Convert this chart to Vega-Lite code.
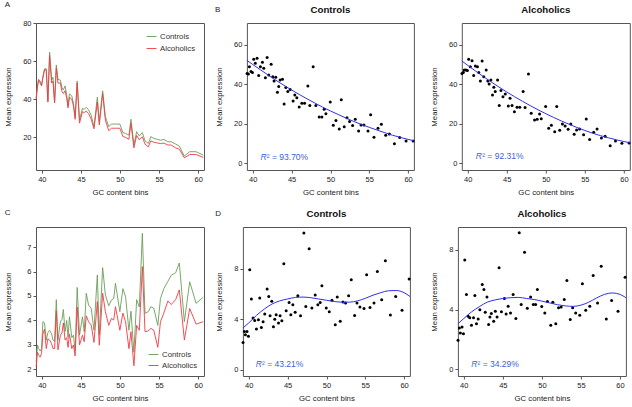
{
  "$schema": "https://vega.github.io/schema/vega-lite/v6.json",
  "padding": {"left": 4, "top": 0, "right": 2, "bottom": 2},
  "background": "white",
  "config": {
    "font": "Liberation Sans",
    "view": {"stroke": "#555", "strokeWidth": 1},
    "axis": {"grid": false, "domain": false, "tickColor": "#555", "tickSize": 3, "labelFontSize": 7.5, "labelColor": "#222", "titleFontSize": 7.8, "titleFontWeight": "normal", "titleColor": "#222", "labelFlush": false, "labelOverlap": false},
    "axisX": {"labelPadding": 2.5, "titlePadding": 5},
    "axisY": {"labelPadding": 2, "titlePadding": 10},
    "title": {"fontSize": 9.7, "fontWeight": "bold", "color": "#111", "offset": 8, "anchor": "middle"}
  },
  "datasets": {
    "lineA": [
      {"x": 39.27, "Controls": 41, "Alcoholics": 40},
      {"x": 39.44, "Controls": 47, "Alcoholics": 46.5},
      {"x": 39.57, "Controls": 50.5, "Alcoholics": 50},
      {"x": 39.78, "Controls": 49.5, "Alcoholics": 48.5},
      {"x": 39.96, "Controls": 47.5, "Alcoholics": 47},
      {"x": 40.13, "Controls": 52, "Alcoholics": 51},
      {"x": 40.34, "Controls": 56, "Alcoholics": 55.5},
      {"x": 40.56, "Controls": 56, "Alcoholics": 55.5},
      {"x": 40.77, "Controls": 39.3, "Alcoholics": 38.5},
      {"x": 40.99, "Controls": 64.7, "Alcoholics": 63},
      {"x": 41.25, "Controls": 50, "Alcoholics": 48.5},
      {"x": 41.42, "Controls": 51.6, "Alcoholics": 49.5},
      {"x": 41.63, "Controls": 38.8, "Alcoholics": 38},
      {"x": 41.85, "Controls": 58, "Alcoholics": 56.5},
      {"x": 42.06, "Controls": 50.5, "Alcoholics": 48.5},
      {"x": 42.37, "Controls": 50, "Alcoholics": 48.5},
      {"x": 42.58, "Controls": 46, "Alcoholics": 44},
      {"x": 42.75, "Controls": 44.9, "Alcoholics": 43},
      {"x": 42.97, "Controls": 47, "Alcoholics": 44.5},
      {"x": 43.18, "Controls": 42.3, "Alcoholics": 40.5},
      {"x": 43.35, "Controls": 36.5, "Alcoholics": 35.5},
      {"x": 43.53, "Controls": 42.8, "Alcoholics": 41},
      {"x": 43.83, "Controls": 41.8, "Alcoholics": 40},
      {"x": 44.04, "Controls": 37.9, "Alcoholics": 36.5},
      {"x": 44.26, "Controls": 30.9, "Alcoholics": 29.5},
      {"x": 44.52, "Controls": 49.6, "Alcoholics": 48.5},
      {"x": 44.82, "Controls": 29.1, "Alcoholics": 27.5},
      {"x": 45.2, "Controls": 35.3, "Alcoholics": 33.5},
      {"x": 45.42, "Controls": 34.7, "Alcoholics": 33},
      {"x": 45.68, "Controls": 35.8, "Alcoholics": 33.8},
      {"x": 45.98, "Controls": 34.4, "Alcoholics": 32.5},
      {"x": 46.32, "Controls": 31.5, "Alcoholics": 29.5},
      {"x": 46.67, "Controls": 25.6, "Alcoholics": 24.5},
      {"x": 47.1, "Controls": 41.1, "Alcoholics": 38.5},
      {"x": 47.35, "Controls": 28.2, "Alcoholics": 26.5},
      {"x": 47.78, "Controls": 44.4, "Alcoholics": 43},
      {"x": 48.13, "Controls": 30.9, "Alcoholics": 29},
      {"x": 48.56, "Controls": 25.6, "Alcoholics": 23.5},
      {"x": 48.9, "Controls": 27, "Alcoholics": 24.8},
      {"x": 49.2, "Controls": 27, "Alcoholics": 24.8},
      {"x": 49.42, "Controls": 27, "Alcoholics": 24.8},
      {"x": 49.98, "Controls": 27, "Alcoholics": 24.8},
      {"x": 50.37, "Controls": 22.5, "Alcoholics": 20.5},
      {"x": 50.71, "Controls": 22.1, "Alcoholics": 20},
      {"x": 51.14, "Controls": 21.2, "Alcoholics": 19},
      {"x": 51.4, "Controls": 29.5, "Alcoholics": 27.5},
      {"x": 51.78, "Controls": 16, "Alcoholics": 14.5},
      {"x": 52.13, "Controls": 23, "Alcoholics": 21},
      {"x": 52.47, "Controls": 20.7, "Alcoholics": 18.8},
      {"x": 52.86, "Controls": 22.5, "Alcoholics": 20.3},
      {"x": 53.2, "Controls": 18.2, "Alcoholics": 16.5},
      {"x": 53.63, "Controls": 16.8, "Alcoholics": 15},
      {"x": 53.94, "Controls": 20.4, "Alcoholics": 18.2},
      {"x": 54.32, "Controls": 19.5, "Alcoholics": 17.5},
      {"x": 54.84, "Controls": 18.9, "Alcoholics": 17},
      {"x": 55.18, "Controls": 18.5, "Alcoholics": 16.8},
      {"x": 55.61, "Controls": 18.9, "Alcoholics": 17},
      {"x": 56.13, "Controls": 17.7, "Alcoholics": 16},
      {"x": 56.56, "Controls": 17.7, "Alcoholics": 16},
      {"x": 57.12, "Controls": 16.5, "Alcoholics": 14.5},
      {"x": 57.59, "Controls": 15.4, "Alcoholics": 13.8},
      {"x": 58.24, "Controls": 10.2, "Alcoholics": 9.3},
      {"x": 58.92, "Controls": 12.5, "Alcoholics": 11},
      {"x": 59.74, "Controls": 12.5, "Alcoholics": 11},
      {"x": 60.65, "Controls": 10.7, "Alcoholics": 9.5}
    ],
    "lineC": [
      {"x": 39.27, "Controls": 2.3, "Alcoholics": 2.1},
      {"x": 39.44, "Controls": 3.0, "Alcoholics": 2.7},
      {"x": 39.57, "Controls": 2.86, "Alcoholics": 2.6},
      {"x": 39.78, "Controls": 2.75, "Alcoholics": 2.5},
      {"x": 39.96, "Controls": 2.85, "Alcoholics": 2.65},
      {"x": 40.13, "Controls": 3.95, "Alcoholics": 3.45},
      {"x": 40.34, "Controls": 3.9, "Alcoholics": 3.65},
      {"x": 40.56, "Controls": 3.2, "Alcoholics": 2.85},
      {"x": 40.77, "Controls": 3.5, "Alcoholics": 3.25},
      {"x": 40.99, "Controls": 3.6, "Alcoholics": 3.2},
      {"x": 41.25, "Controls": 3.45, "Alcoholics": 3.05},
      {"x": 41.42, "Controls": 3.2, "Alcoholics": 2.85},
      {"x": 41.63, "Controls": 3.15, "Alcoholics": 2.85},
      {"x": 41.85, "Controls": 4.85, "Alcoholics": 4.4},
      {"x": 42.06, "Controls": 3.2, "Alcoholics": 2.8},
      {"x": 42.37, "Controls": 3.95, "Alcoholics": 3.4},
      {"x": 42.58, "Controls": 4.05, "Alcoholics": 3.5},
      {"x": 42.75, "Controls": 4.45, "Alcoholics": 3.9},
      {"x": 42.97, "Controls": 3.55, "Alcoholics": 3.2},
      {"x": 43.18, "Controls": 4.0, "Alcoholics": 3.3},
      {"x": 43.35, "Controls": 3.3, "Alcoholics": 2.9},
      {"x": 43.53, "Controls": 4.15, "Alcoholics": 3.45},
      {"x": 43.83, "Controls": 3.3, "Alcoholics": 2.85},
      {"x": 44.04, "Controls": 3.4, "Alcoholics": 3.0},
      {"x": 44.26, "Controls": 2.75, "Alcoholics": 2.55},
      {"x": 44.52, "Controls": 5.35, "Alcoholics": 4.55},
      {"x": 44.82, "Controls": 3.4, "Alcoholics": 3.0},
      {"x": 45.2, "Controls": 4.15, "Alcoholics": 3.4},
      {"x": 45.42, "Controls": 3.54, "Alcoholics": 3.13},
      {"x": 45.68, "Controls": 5.11, "Alcoholics": 4.19},
      {"x": 45.98, "Controls": 4.63, "Alcoholics": 3.95},
      {"x": 46.32, "Controls": 4.49, "Alcoholics": 3.81},
      {"x": 46.67, "Controls": 3.6, "Alcoholics": 3.1},
      {"x": 47.1, "Controls": 5.86, "Alcoholics": 4.77},
      {"x": 47.35, "Controls": 3.4, "Alcoholics": 2.99},
      {"x": 47.78, "Controls": 6.16, "Alcoholics": 5.11},
      {"x": 48.13, "Controls": 5.04, "Alcoholics": 4.36},
      {"x": 48.56, "Controls": 4.6, "Alcoholics": 3.8},
      {"x": 48.9, "Controls": 4.83, "Alcoholics": 4.08},
      {"x": 49.2, "Controls": 4.9, "Alcoholics": 4.02},
      {"x": 49.42, "Controls": 5.52, "Alcoholics": 4.56},
      {"x": 49.98, "Controls": 4.36, "Alcoholics": 3.6},
      {"x": 50.37, "Controls": 5.3, "Alcoholics": 4.3},
      {"x": 50.71, "Controls": 4.97, "Alcoholics": 3.95},
      {"x": 51.14, "Controls": 3.6, "Alcoholics": 2.85},
      {"x": 51.4, "Controls": 4.38, "Alcoholics": 3.54},
      {"x": 51.78, "Controls": 2.7, "Alcoholics": 2.15},
      {"x": 52.13, "Controls": 4.85, "Alcoholics": 3.8},
      {"x": 52.47, "Controls": 4.55, "Alcoholics": 3.6},
      {"x": 52.86, "Controls": 7.56, "Alcoholics": 6.2},
      {"x": 53.2, "Controls": 4.29, "Alcoholics": 3.54},
      {"x": 53.63, "Controls": 4.36, "Alcoholics": 3.57},
      {"x": 53.94, "Controls": 4.56, "Alcoholics": 3.68},
      {"x": 54.32, "Controls": 4.5, "Alcoholics": 3.6},
      {"x": 54.84, "Controls": 3.8, "Alcoholics": 2.9},
      {"x": 55.18, "Controls": 4.9, "Alcoholics": 3.95},
      {"x": 55.61, "Controls": 5.3, "Alcoholics": 4.3},
      {"x": 56.13, "Controls": 5.6, "Alcoholics": 4.8},
      {"x": 56.56, "Controls": 5.85, "Alcoholics": 4.65},
      {"x": 57.12, "Controls": 5.95, "Alcoholics": 4.85},
      {"x": 57.59, "Controls": 6.35, "Alcoholics": 5.25},
      {"x": 58.24, "Controls": 3.95, "Alcoholics": 3.2},
      {"x": 58.92, "Controls": 5.58, "Alcoholics": 4.49},
      {"x": 59.74, "Controls": 4.7, "Alcoholics": 3.85},
      {"x": 60.65, "Controls": 4.95, "Alcoholics": 3.95}
    ],
    "scatTop": [
      {"x": 39.27, "Controls": 45.5, "Alcoholics": 45.5},
      {"x": 39.44, "Controls": 45.2, "Alcoholics": 45.9},
      {"x": 39.57, "Controls": 48.9, "Alcoholics": 47.2},
      {"x": 39.78, "Controls": 46.4, "Alcoholics": 47.2},
      {"x": 39.96, "Controls": 45.9, "Alcoholics": 46.9},
      {"x": 40.13, "Controls": 52.6, "Alcoholics": 52.6},
      {"x": 40.34, "Controls": 50.6, "Alcoholics": 48.9},
      {"x": 40.56, "Controls": 53.1, "Alcoholics": 51.9},
      {"x": 40.77, "Controls": 44.4, "Alcoholics": 44.4},
      {"x": 40.99, "Controls": 48.9, "Alcoholics": 49.2},
      {"x": 41.25, "Controls": 51.1, "Alcoholics": 48.9},
      {"x": 41.42, "Controls": 48.1, "Alcoholics": 45.9},
      {"x": 41.63, "Controls": 43.3, "Alcoholics": 41.7},
      {"x": 41.85, "Controls": 53.6, "Alcoholics": 51.8},
      {"x": 42.06, "Controls": 44.7, "Alcoholics": 43.8},
      {"x": 42.37, "Controls": 50.1, "Alcoholics": 47.2},
      {"x": 42.58, "Controls": 43.8, "Alcoholics": 41.7},
      {"x": 42.75, "Controls": 41.7, "Alcoholics": 40.1},
      {"x": 42.97, "Controls": 43.5, "Alcoholics": 42.2},
      {"x": 43.18, "Controls": 35.9, "Alcoholics": 34.6},
      {"x": 43.35, "Controls": 38.8, "Alcoholics": 38.5},
      {"x": 43.53, "Controls": 42.2, "Alcoholics": 36.3},
      {"x": 43.83, "Controls": 42.5, "Alcoholics": 42.2},
      {"x": 44.04, "Controls": 30.0, "Alcoholics": 29.2},
      {"x": 44.26, "Controls": 38.3, "Alcoholics": 36.8},
      {"x": 44.52, "Controls": 36.3, "Alcoholics": 33.7},
      {"x": 44.82, "Controls": 37.4, "Alcoholics": 35.1},
      {"x": 45.2, "Controls": 31.5, "Alcoholics": 29.0},
      {"x": 45.42, "Controls": 34.6, "Alcoholics": 32.9},
      {"x": 45.68, "Controls": 33.2, "Alcoholics": 29.2},
      {"x": 45.98, "Controls": 28.5, "Alcoholics": 26.1},
      {"x": 46.32, "Controls": 30.4, "Alcoholics": 28.3},
      {"x": 46.67, "Controls": 30.4, "Alcoholics": 28.3},
      {"x": 47.1, "Controls": 39.1, "Alcoholics": 36.3},
      {"x": 47.35, "Controls": 29.2, "Alcoholics": 28.2},
      {"x": 47.78, "Controls": 48.9, "Alcoholics": 45.2},
      {"x": 48.13, "Controls": 29.2, "Alcoholics": 25.3},
      {"x": 48.56, "Controls": 23.4, "Alcoholics": 21.9},
      {"x": 48.9, "Controls": 23.4, "Alcoholics": 22.3},
      {"x": 49.2, "Controls": 27.3, "Alcoholics": 25.0},
      {"x": 49.42, "Controls": 25.1, "Alcoholics": 22.6},
      {"x": 49.98, "Controls": 31.0, "Alcoholics": 28.8},
      {"x": 50.37, "Controls": 19.2, "Alcoholics": 17.7},
      {"x": 50.71, "Controls": 21.6, "Alcoholics": 19.2},
      {"x": 51.14, "Controls": 17.4, "Alcoholics": 15.9},
      {"x": 51.4, "Controls": 32.2, "Alcoholics": 28.8},
      {"x": 51.78, "Controls": 18.5, "Alcoholics": 16.7},
      {"x": 52.13, "Controls": 23.1, "Alcoholics": 19.9},
      {"x": 52.47, "Controls": 21.1, "Alcoholics": 18.9},
      {"x": 52.86, "Controls": 19.1, "Alcoholics": 17.2},
      {"x": 53.2, "Controls": 22.3, "Alcoholics": 19.9},
      {"x": 53.63, "Controls": 16.4, "Alcoholics": 14.7},
      {"x": 53.94, "Controls": 19.4, "Alcoholics": 16.9},
      {"x": 54.32, "Controls": 19.4, "Alcoholics": 17.4},
      {"x": 54.84, "Controls": 16.4, "Alcoholics": 14.5},
      {"x": 55.18, "Controls": 24.6, "Alcoholics": 22.4},
      {"x": 55.61, "Controls": 13.2, "Alcoholics": 12.1},
      {"x": 56.13, "Controls": 17.7, "Alcoholics": 15.7},
      {"x": 56.56, "Controls": 19.7, "Alcoholics": 17.4},
      {"x": 57.12, "Controls": 14.2, "Alcoholics": 12.8},
      {"x": 57.59, "Controls": 14.8, "Alcoholics": 13.7},
      {"x": 58.24, "Controls": 9.9, "Alcoholics": 8.9},
      {"x": 58.92, "Controls": 13.0, "Alcoholics": 11.3},
      {"x": 59.74, "Controls": 11.3, "Alcoholics": 10.1},
      {"x": 60.65, "Controls": 11.3, "Alcoholics": 10.3}
    ],
    "scatBot": [
      {"x": 39.27, "Controls": 2.16, "Alcoholics": 1.95},
      {"x": 39.44, "Controls": 3.03, "Alcoholics": 2.77},
      {"x": 39.57, "Controls": 2.77, "Alcoholics": 2.44},
      {"x": 39.78, "Controls": 3.03, "Alcoholics": 2.84},
      {"x": 39.96, "Controls": 2.64, "Alcoholics": 2.39},
      {"x": 40.13, "Controls": 7.92, "Alcoholics": 7.32},
      {"x": 40.34, "Controls": 5.59, "Alcoholics": 5.01},
      {"x": 40.56, "Controls": 4.09, "Alcoholics": 3.56},
      {"x": 40.77, "Controls": 3.9, "Alcoholics": 3.45},
      {"x": 40.99, "Controls": 3.22, "Alcoholics": 2.95},
      {"x": 41.25, "Controls": 3.96, "Alcoholics": 3.45},
      {"x": 41.42, "Controls": 5.67, "Alcoholics": 4.94},
      {"x": 41.63, "Controls": 3.35, "Alcoholics": 3.06},
      {"x": 41.85, "Controls": 3.8, "Alcoholics": 3.38},
      {"x": 42.06, "Controls": 4.41, "Alcoholics": 4.0},
      {"x": 42.37, "Controls": 6.39, "Alcoholics": 5.68},
      {"x": 42.58, "Controls": 5.8, "Alcoholics": 5.35},
      {"x": 42.75, "Controls": 4.27, "Alcoholics": 3.83},
      {"x": 42.97, "Controls": 5.41, "Alcoholics": 4.85},
      {"x": 43.18, "Controls": 3.4, "Alcoholics": 3.0},
      {"x": 43.35, "Controls": 4.0, "Alcoholics": 3.5},
      {"x": 43.53, "Controls": 4.35, "Alcoholics": 3.74},
      {"x": 43.83, "Controls": 3.69, "Alcoholics": 3.22},
      {"x": 44.04, "Controls": 4.27, "Alcoholics": 3.89},
      {"x": 44.26, "Controls": 3.88, "Alcoholics": 3.51},
      {"x": 44.52, "Controls": 8.39, "Alcoholics": 6.8},
      {"x": 44.82, "Controls": 4.67, "Alcoholics": 3.85},
      {"x": 45.2, "Controls": 5.33, "Alcoholics": 4.74},
      {"x": 45.42, "Controls": 4.35, "Alcoholics": 3.71},
      {"x": 45.68, "Controls": 5.15, "Alcoholics": 4.23},
      {"x": 45.98, "Controls": 4.54, "Alcoholics": 3.78},
      {"x": 46.32, "Controls": 5.86, "Alcoholics": 5.01},
      {"x": 46.67, "Controls": 4.27, "Alcoholics": 3.4},
      {"x": 47.1, "Controls": 10.82, "Alcoholics": 9.15},
      {"x": 47.35, "Controls": 5.01, "Alcoholics": 4.34},
      {"x": 47.78, "Controls": 9.58, "Alcoholics": 7.85},
      {"x": 48.13, "Controls": 4.88, "Alcoholics": 4.09},
      {"x": 48.56, "Controls": 5.91, "Alcoholics": 4.85},
      {"x": 48.9, "Controls": 5.15, "Alcoholics": 4.34},
      {"x": 49.2, "Controls": 5.33, "Alcoholics": 4.34},
      {"x": 49.42, "Controls": 6.65, "Alcoholics": 5.35},
      {"x": 49.98, "Controls": 4.88, "Alcoholics": 4.21},
      {"x": 50.37, "Controls": 4.59, "Alcoholics": 3.78},
      {"x": 50.71, "Controls": 5.49, "Alcoholics": 4.54},
      {"x": 51.14, "Controls": 3.56, "Alcoholics": 2.95},
      {"x": 51.4, "Controls": 5.75, "Alcoholics": 4.5},
      {"x": 51.78, "Controls": 3.83, "Alcoholics": 3.06},
      {"x": 52.13, "Controls": 5.36, "Alcoholics": 4.12},
      {"x": 52.47, "Controls": 5.28, "Alcoholics": 4.18},
      {"x": 52.86, "Controls": 5.86, "Alcoholics": 4.68},
      {"x": 53.2, "Controls": 7.12, "Alcoholics": 5.95},
      {"x": 53.63, "Controls": 4.3, "Alcoholics": 3.33},
      {"x": 53.94, "Controls": 5.28, "Alcoholics": 4.12},
      {"x": 54.32, "Controls": 4.96, "Alcoholics": 3.78},
      {"x": 54.84, "Controls": 4.85, "Alcoholics": 3.62},
      {"x": 55.18, "Controls": 7.52, "Alcoholics": 5.73},
      {"x": 55.61, "Controls": 4.93, "Alcoholics": 3.96},
      {"x": 56.13, "Controls": 5.28, "Alcoholics": 4.23},
      {"x": 56.56, "Controls": 7.78, "Alcoholics": 6.29},
      {"x": 57.12, "Controls": 5.54, "Alcoholics": 4.45},
      {"x": 57.59, "Controls": 8.63, "Alcoholics": 6.91},
      {"x": 58.24, "Controls": 4.33, "Alcoholics": 3.38},
      {"x": 58.92, "Controls": 5.8, "Alcoholics": 4.61},
      {"x": 59.74, "Controls": 4.7, "Alcoholics": 3.89},
      {"x": 60.65, "Controls": 7.18, "Alcoholics": 6.17}
    ],
    "fitTop": [
      {"x": 39.25, "Controls": 52.1, "Alcoholics": 51.8},
      {"x": 40, "Controls": 50.0, "Alcoholics": 49.6},
      {"x": 41, "Controls": 47.3, "Alcoholics": 46.7},
      {"x": 42, "Controls": 44.6, "Alcoholics": 43.9},
      {"x": 43, "Controls": 42.0, "Alcoholics": 41.2},
      {"x": 44, "Controls": 39.5, "Alcoholics": 38.6},
      {"x": 45, "Controls": 37.1, "Alcoholics": 36.1},
      {"x": 46, "Controls": 34.8, "Alcoholics": 33.7},
      {"x": 47, "Controls": 32.6, "Alcoholics": 31.4},
      {"x": 48, "Controls": 30.5, "Alcoholics": 29.2},
      {"x": 49, "Controls": 28.4, "Alcoholics": 27.1},
      {"x": 50, "Controls": 26.5, "Alcoholics": 25.1},
      {"x": 51, "Controls": 24.7, "Alcoholics": 23.2},
      {"x": 52, "Controls": 22.9, "Alcoholics": 21.4},
      {"x": 53, "Controls": 21.2, "Alcoholics": 19.7},
      {"x": 54, "Controls": 19.6, "Alcoholics": 18.1},
      {"x": 55, "Controls": 18.2, "Alcoholics": 16.6},
      {"x": 56, "Controls": 16.8, "Alcoholics": 15.2},
      {"x": 57, "Controls": 15.5, "Alcoholics": 14.0},
      {"x": 58, "Controls": 14.2, "Alcoholics": 12.9},
      {"x": 59, "Controls": 13.1, "Alcoholics": 11.9},
      {"x": 60, "Controls": 12.1, "Alcoholics": 11.0},
      {"x": 60.75, "Controls": 11.4, "Alcoholics": 10.4}
    ],
    "fitBot": [
      {"x": 39.25, "Controls": 3.3, "Alcoholics": 3.05},
      {"x": 40, "Controls": 3.7, "Alcoholics": 3.4},
      {"x": 41, "Controls": 4.3, "Alcoholics": 3.85},
      {"x": 42, "Controls": 4.8, "Alcoholics": 4.2},
      {"x": 43, "Controls": 5.2, "Alcoholics": 4.5},
      {"x": 44, "Controls": 5.45, "Alcoholics": 4.65},
      {"x": 45, "Controls": 5.6, "Alcoholics": 4.75},
      {"x": 46, "Controls": 5.72, "Alcoholics": 4.8},
      {"x": 47, "Controls": 5.75, "Alcoholics": 4.82},
      {"x": 48, "Controls": 5.7, "Alcoholics": 4.75},
      {"x": 49, "Controls": 5.6, "Alcoholics": 4.68},
      {"x": 50, "Controls": 5.5, "Alcoholics": 4.57},
      {"x": 51, "Controls": 5.4, "Alcoholics": 4.45},
      {"x": 52, "Controls": 5.35, "Alcoholics": 4.33},
      {"x": 53, "Controls": 5.35, "Alcoholics": 4.25},
      {"x": 54, "Controls": 5.45, "Alcoholics": 4.22},
      {"x": 55, "Controls": 5.65, "Alcoholics": 4.3},
      {"x": 56, "Controls": 5.9, "Alcoholics": 4.5},
      {"x": 57, "Controls": 6.1, "Alcoholics": 4.78},
      {"x": 58, "Controls": 6.25, "Alcoholics": 5.02},
      {"x": 59, "Controls": 6.27, "Alcoholics": 5.12},
      {"x": 60, "Controls": 6.1, "Alcoholics": 5.02},
      {"x": 60.75, "Controls": 5.8, "Alcoholics": 4.8}
    ]
  },
  "spacing": 11,
  "resolve": {"scale": {"color": "independent"}, "legend": {"color": "independent"}},
  "vconcat": [
    {
      "spacing": 8.9,
      "resolve": {"scale": {"color": "independent"}, "legend": {"color": "independent"}},
      "hconcat": [
        {
          "width": 168, "height": 147,
          "title": {"text": "A", "anchor": "start", "fontWeight": "normal", "fontSize": 8, "offset": 9.7, "color": "#222"},
          "data": {"name": "lineA"},
          "transform": [{"fold": ["Controls", "Alcoholics"], "as": ["group", "value"]}],
          "mark": {"type": "line", "strokeWidth": 1, "opacity": 0.9},
          "encoding": {
            "x": {"field": "x", "type": "quantitative", "scale": {"domain": [39.25, 60.75], "nice": false, "zero": false}, "axis": {"values": [40, 45, 50, 55, 60], "title": "GC content bins"}},
            "y": {"field": "value", "type": "quantitative", "scale": {"domain": [2.9, 80], "nice": false, "zero": false}, "axis": {"values": [20, 40, 60, 80], "title": "Mean expression"}},
            "color": {"field": "group", "type": "nominal", "scale": {"domain": ["Controls", "Alcoholics"], "range": ["#6a9f58", "#f03c46"]},
              "legend": {"orient": "top-right", "offset": 8, "title": null, "symbolType": "stroke", "symbolSize": 100, "symbolStrokeWidth": 1, "labelFontSize": 7.8, "labelColor": "#333", "rowPadding": 2, "padding": 0, "labelOffset": 3}}
          }
        },
        {
          "title": {"text": "B", "anchor": "start", "fontWeight": "normal", "fontSize": 8, "offset": 0, "dy": 9, "color": "#222"},
          "spacing": 12.9,
          "hconcat": [
            {
              "width": 167, "height": 147,
              "title": "Controls",
              "layer": [
                {"data": {"name": "scatTop"}, "mark": {"type": "circle", "size": 9, "color": "#000", "opacity": 1},
                  "encoding": {
                    "x": {"field": "x", "type": "quantitative", "scale": {"domain": [39.25, 60.75], "nice": false, "zero": false}, "axis": {"values": [40, 45, 50, 55, 60], "title": "GC content bins"}},
                    "y": {"field": "Controls", "type": "quantitative", "scale": {"domain": [-3.4, 71], "nice": false, "zero": false}, "axis": {"values": [0, 10, 20, 30, 40, 50, 60, 70], "title": "Mean expression"}}}},
                {"data": {"name": "fitTop"}, "mark": {"type": "line", "color": "#2f2ff0", "strokeWidth": 1, "interpolate": "monotone"},
                  "encoding": {
                    "x": {"field": "x", "type": "quantitative", "axis": {"title": "GC content bins"}},
                    "y": {"field": "Controls", "type": "quantitative", "axis": {"title": "Mean expression"}}}},
                {"data": {"values": [{"x": 41.0, "y": 3.4, "r": "R", "t": "² = 93.70%"}]}, "mark": {"type": "text", "fontStyle": "italic", "fontSize": 8.5, "align": "left", "baseline": "middle", "color": "#3a5fe0"},
                  "encoding": {"x": {"field": "x", "type": "quantitative", "axis": {"title": "GC content bins"}}, "y": {"field": "y", "type": "quantitative", "axis": {"title": "Mean expression"}}, "text": {"field": "r"}}},
                {"data": {"values": [{"x": 41.0, "y": 3.4, "r": "R", "t": "² = 93.70%"}]}, "mark": {"type": "text", "fontSize": 8.5, "align": "left", "baseline": "middle", "dx": 6.3, "color": "#3a5fe0"},
                  "encoding": {"x": {"field": "x", "type": "quantitative", "axis": {"title": "GC content bins"}}, "y": {"field": "y", "type": "quantitative", "axis": {"title": "Mean expression"}}, "text": {"field": "t"}}}
              ]
            },
            {
              "width": 168, "height": 147,
              "title": "Alcoholics",
              "layer": [
                {"data": {"name": "scatTop"}, "mark": {"type": "circle", "size": 9, "color": "#000", "opacity": 1},
                  "encoding": {
                    "x": {"field": "x", "type": "quantitative", "scale": {"domain": [39.25, 60.75], "nice": false, "zero": false}, "axis": {"values": [40, 45, 50, 55, 60], "title": "GC content bins"}},
                    "y": {"field": "Alcoholics", "type": "quantitative", "scale": {"domain": [-3.4, 71], "nice": false, "zero": false}, "axis": {"values": [0, 10, 20, 30, 40, 50, 60, 70], "title": "Mean expression"}}}},
                {"data": {"name": "fitTop"}, "mark": {"type": "line", "color": "#2f2ff0", "strokeWidth": 1, "interpolate": "monotone"},
                  "encoding": {
                    "x": {"field": "x", "type": "quantitative", "axis": {"title": "GC content bins"}},
                    "y": {"field": "Alcoholics", "type": "quantitative", "axis": {"title": "Mean expression"}}}},
                {"data": {"values": [{"x": 41.05, "y": 3.6, "r": "R", "t": "² = 92.31%"}]}, "mark": {"type": "text", "fontStyle": "italic", "fontSize": 8.5, "align": "left", "baseline": "middle", "color": "#3a5fe0"},
                  "encoding": {"x": {"field": "x", "type": "quantitative", "axis": {"title": "GC content bins"}}, "y": {"field": "y", "type": "quantitative", "axis": {"title": "Mean expression"}}, "text": {"field": "r"}}},
                {"data": {"values": [{"x": 41.05, "y": 3.6, "r": "R", "t": "² = 92.31%"}]}, "mark": {"type": "text", "fontSize": 8.5, "align": "left", "baseline": "middle", "dx": 6.3, "color": "#3a5fe0"},
                  "encoding": {"x": {"field": "x", "type": "quantitative", "axis": {"title": "GC content bins"}}, "y": {"field": "y", "type": "quantitative", "axis": {"title": "Mean expression"}}, "text": {"field": "t"}}}
              ]
            }
          ]
        }
      ]
    },
    {
      "spacing": 8.9,
      "resolve": {"scale": {"color": "independent"}, "legend": {"color": "independent"}},
      "hconcat": [
        {
          "width": 168, "height": 149,
          "title": {"text": "C", "anchor": "start", "fontWeight": "normal", "fontSize": 8, "offset": 9.7, "color": "#222"},
          "data": {"name": "lineC"},
          "transform": [{"fold": ["Controls", "Alcoholics"], "as": ["group", "value"]}],
          "mark": {"type": "line", "strokeWidth": 1, "opacity": 0.9},
          "encoding": {
            "x": {"field": "x", "type": "quantitative", "scale": {"domain": [39.25, 60.75], "nice": false, "zero": false}, "axis": {"values": [40, 45, 50, 55, 60], "title": "GC content bins"}},
            "y": {"field": "value", "type": "quantitative", "scale": {"domain": [1.73, 7.82], "nice": false, "zero": false}, "axis": {"values": [2, 3, 4, 5, 6, 7], "title": "Mean expression", "minExtent": 13.3}},
            "color": {"field": "group", "type": "nominal", "scale": {"domain": ["Controls", "Alcoholics"], "range": ["#6a9f58", "#f03c46"]},
              "legend": {"orient": "bottom-right", "offset": 6, "title": null, "symbolType": "stroke", "symbolSize": 100, "symbolStrokeWidth": 1, "labelFontSize": 7.8, "labelColor": "#333", "rowPadding": 1, "padding": 0, "labelOffset": 3}}
          }
        },
        {
          "title": {"text": "D", "anchor": "start", "fontWeight": "normal", "fontSize": 8, "offset": 0, "dy": 9, "color": "#222"},
          "spacing": 17,
          "hconcat": [
            {
              "width": 167, "height": 149,
              "title": "Controls",
              "layer": [
                {"data": {"name": "scatBot"}, "mark": {"type": "circle", "size": 9, "color": "#000", "opacity": 1},
                  "encoding": {
                    "x": {"field": "x", "type": "quantitative", "scale": {"domain": [39.25, 60.75], "nice": false, "zero": false}, "axis": {"values": [40, 45, 50, 55, 60], "title": "GC content bins"}},
                    "y": {"field": "Controls", "type": "quantitative", "scale": {"domain": [-0.5, 11.3], "nice": false, "zero": false}, "axis": {"values": [0, 2, 4, 6, 8, 10], "title": "Mean expression"}}}},
                {"data": {"name": "fitBot"}, "mark": {"type": "line", "color": "#2f2ff0", "strokeWidth": 1, "interpolate": "monotone"},
                  "encoding": {
                    "x": {"field": "x", "type": "quantitative", "axis": {"title": "GC content bins"}},
                    "y": {"field": "Controls", "type": "quantitative", "axis": {"title": "Mean expression"}}}},
                {"data": {"values": [{"x": 40.9, "y": 0.43, "r": "R", "t": "² = 43.21%"}]}, "mark": {"type": "text", "fontStyle": "italic", "fontSize": 8.5, "align": "left", "baseline": "middle", "color": "#3a5fe0"},
                  "encoding": {"x": {"field": "x", "type": "quantitative", "axis": {"title": "GC content bins"}}, "y": {"field": "y", "type": "quantitative", "axis": {"title": "Mean expression"}}, "text": {"field": "r"}}},
                {"data": {"values": [{"x": 40.9, "y": 0.43, "r": "R", "t": "² = 43.21%"}]}, "mark": {"type": "text", "fontSize": 8.5, "align": "left", "baseline": "middle", "dx": 6.3, "color": "#3a5fe0"},
                  "encoding": {"x": {"field": "x", "type": "quantitative", "axis": {"title": "GC content bins"}}, "y": {"field": "y", "type": "quantitative", "axis": {"title": "Mean expression"}}, "text": {"field": "t"}}}
              ]
            },
            {
              "width": 168, "height": 149,
              "title": "Alcoholics",
              "layer": [
                {"data": {"name": "scatBot"}, "mark": {"type": "circle", "size": 9, "color": "#000", "opacity": 1},
                  "encoding": {
                    "x": {"field": "x", "type": "quantitative", "scale": {"domain": [39.25, 60.75], "nice": false, "zero": false}, "axis": {"values": [40, 45, 50, 55, 60], "title": "GC content bins"}},
                    "y": {"field": "Alcoholics", "type": "quantitative", "scale": {"domain": [-0.45, 9.54], "nice": false, "zero": false}, "axis": {"values": [0, 2, 4, 6, 8], "title": "Mean expression"}}}},
                {"data": {"name": "fitBot"}, "mark": {"type": "line", "color": "#2f2ff0", "strokeWidth": 1, "interpolate": "monotone"},
                  "encoding": {
                    "x": {"field": "x", "type": "quantitative", "axis": {"title": "GC content bins"}},
                    "y": {"field": "Alcoholics", "type": "quantitative", "axis": {"title": "Mean expression"}}}},
                {"data": {"values": [{"x": 40.95, "y": 0.38, "r": "R", "t": "² = 34.29%"}]}, "mark": {"type": "text", "fontStyle": "italic", "fontSize": 8.5, "align": "left", "baseline": "middle", "color": "#3a5fe0"},
                  "encoding": {"x": {"field": "x", "type": "quantitative", "axis": {"title": "GC content bins"}}, "y": {"field": "y", "type": "quantitative", "axis": {"title": "Mean expression"}}, "text": {"field": "r"}}},
                {"data": {"values": [{"x": 40.95, "y": 0.38, "r": "R", "t": "² = 34.29%"}]}, "mark": {"type": "text", "fontSize": 8.5, "align": "left", "baseline": "middle", "dx": 6.3, "color": "#3a5fe0"},
                  "encoding": {"x": {"field": "x", "type": "quantitative", "axis": {"title": "GC content bins"}}, "y": {"field": "y", "type": "quantitative", "axis": {"title": "Mean expression"}}, "text": {"field": "t"}}}
              ]
            }
          ]
        }
      ]
    }
  ]
}
